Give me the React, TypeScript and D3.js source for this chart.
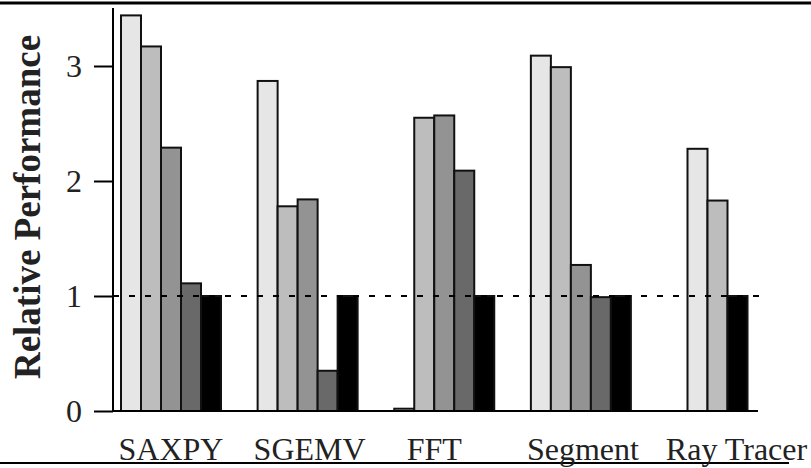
import React, { useRef, useEffect } from 'react';
import * as d3 from 'd3';

const categories = ['SAXPY', 'SGEMV', 'FFT', 'Segment', 'Ray Tracer'];
const seriesColors = ['#e6e6e6', '#bdbdbd', '#939393', '#696969', '#000000'];
// one row per category, one value per series (null = no bar)
const values: (number | null)[][] = [
  [3.44, 3.17, 2.29, 1.11, 1.0],
  [2.87, 1.78, 1.84, 0.35, 1.0],
  [0.02, 2.55, 2.57, 2.09, 1.0],
  [3.09, 2.99, 1.27, 0.99, 1.0],
  [2.28, 1.83, null, null, 1.0],
];
const yTicks = [0, 1, 2, 3];
const baselineValue = 1;

const WIDTH = 811;
const HEIGHT = 468;
// labels in the original aren't exactly centred under their groups
const labelNudge = [0, 2, -10, 2, 19];

const App: React.FC = () => {
  const svgRef = useRef<SVGSVGElement | null>(null);

  useEffect(() => {
    if (!svgRef.current) return;
    const svg = d3.select(svgRef.current);
    svg.selectAll('*').remove();

    const axisX = 113;
    const axisEnd = 758;
    const barW = 20;
    const serif = '"Liberation Serif", "Times New Roman", serif';

    const x = d3.scalePoint<string>().domain(categories).range([171, 717.5]);
    const y = d3.scaleLinear().domain([0, 3]).range([411, 66]);

    // frame lines from the page
    svg.append('line')
      .attr('x1', 0).attr('x2', WIDTH).attr('y1', 3).attr('y2', 3)
      .attr('stroke', '#000').attr('stroke-width', 3);
    svg.append('line')
      .attr('x1', 0).attr('x2', 789).attr('y1', 463).attr('y2', 463)
      .attr('stroke', '#000').attr('stroke-width', 2);

    // bars
    values.forEach((row, ci) => {
      const present = row
        .map((v, si) => ({ v, si }))
        .filter(d => d.v !== null) as { v: number; si: number }[];
      const cx = x(categories[ci])!;
      const k = present.length;
      present.forEach((d, j) => {
        const bx = cx + (j - k / 2) * barW;
        svg.append('rect')
          .attr('x', bx)
          .attr('y', y(d.v))
          .attr('width', barW)
          .attr('height', y(0) - y(d.v))
          .attr('fill', seriesColors[d.si])
          .attr('stroke', '#111')
          .attr('stroke-width', 2);
      });
    });

    // dashed reference line
    svg.append('line')
      .attr('x1', axisX).attr('x2', axisEnd + 1)
      .attr('y1', y(baselineValue)).attr('y2', y(baselineValue))
      .attr('stroke', '#000').attr('stroke-width', 2)
      .attr('stroke-dasharray', '6,10');

    // y axis
    const yAxis = svg.append('g')
      .attr('transform', `translate(${axisX},0)`)
      .call(d3.axisLeft(y).tickValues(yTicks).tickFormat(d3.format('d')).tickSize(19).tickPadding(12));
    yAxis.select('.domain').remove();
    yAxis.selectAll('line').attr('stroke', '#000').attr('stroke-width', 2);
    yAxis.selectAll('text')
      .attr('font-family', serif)
      .attr('font-size', 32)
      .attr('fill', '#222');

    svg.append('line')
      .attr('x1', axisX).attr('x2', axisX).attr('y1', 8).attr('y2', y(0))
      .attr('stroke', '#000').attr('stroke-width', 2);
    svg.append('line')
      .attr('x1', axisX).attr('x2', axisEnd).attr('y1', y(0)).attr('y2', y(0))
      .attr('stroke', '#000').attr('stroke-width', 2);

    // category labels
    svg.append('g')
      .selectAll('text')
      .data(categories)
      .join('text')
      .attr('x', (d, i) => x(d)! + labelNudge[i])
      .attr('y', 460)
      .attr('text-anchor', 'middle')
      .attr('font-family', serif)
      .attr('font-size', 32)
      .attr('fill', '#222')
      .text(d => d);

    // y axis title
    svg.append('text')
      .attr('transform', `translate(40,207) rotate(-90)`)
      .attr('text-anchor', 'middle')
      .attr('font-family', serif)
      .attr('font-weight', 'bold')
      .attr('font-size', 37)
      .attr('fill', '#222')
      .text('Relative Performance');
  }, []);

  return (
    <svg
      ref={svgRef}
      width={WIDTH}
      height={HEIGHT}
      style={{ position: 'absolute', left: 0, top: 0, background: '#fff' }}
    />
  );
};

export default App;
